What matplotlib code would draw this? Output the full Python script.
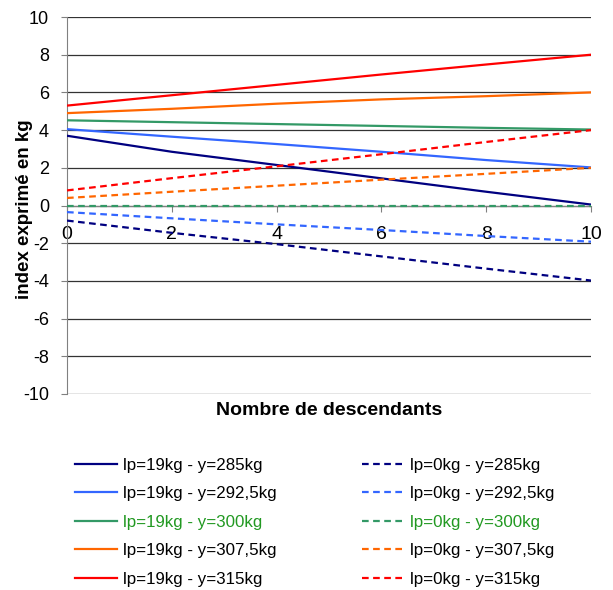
import matplotlib
matplotlib.use("Agg")
import matplotlib.pyplot as plt

# x values: nombre de descendants
descendants = [0, 2, 4, 6, 8, 10]

# Ip = 19 kg (solid lines)
lp19_285 = [3.7, 2.85, 2.15, 1.44, 0.73, 0.05]
lp19_292 = [4.05, 3.65, 3.26, 2.85, 2.41, 2.02]
lp19_300 = [4.52, 4.42, 4.32, 4.22, 4.12, 4.03]
lp19_307 = [4.9, 5.13, 5.4, 5.63, 5.8, 6.0]
lp19_315 = [5.3, 5.85, 6.4, 6.95, 7.48, 8.0]

# Ip = 0 kg (dashed lines)
lp0_285 = [-0.8, -1.45, -2.05, -2.7, -3.35, -3.98]
lp0_292 = [-0.35, -0.68, -1.0, -1.3, -1.62, -1.92]
lp0_300 = [0.0, 0.0, 0.0, 0.0, 0.0, 0.0]
lp0_307 = [0.4, 0.73, 1.05, 1.37, 1.68, 2.0]
lp0_315 = [0.8, 1.45, 2.08, 2.72, 3.37, 4.0]

labels_19 = ["lp=19kg - y=285kg", "lp=19kg - y=292,5kg", "lp=19kg - y=300kg",
             "lp=19kg - y=307,5kg", "lp=19kg - y=315kg"]
labels_0 = ["lp=0kg - y=285kg", "lp=0kg - y=292,5kg", "lp=0kg - y=300kg",
            "lp=0kg - y=307,5kg", "lp=0kg - y=315kg"]
colors = ["#000080", "#3366FF", "#339966", "#FF6600", "#FF0000"]

plt.rcParams["font.family"] = ["Liberation Sans", "DejaVu Sans"]
plt.rcParams["axes.unicode_minus"] = False

fig = plt.figure(figsize=(6.13, 5.90), dpi=100)
ax = fig.add_axes([67 / 613, 1 - 394 / 590, 524 / 613, 377 / 590])

handles = []
for ys, lab, c in zip([lp19_285, lp19_292, lp19_300, lp19_307, lp19_315], labels_19, colors):
    h, = ax.plot(descendants, ys, color=c, lw=1.6, label=lab, zorder=3)
    handles.append(h)
for ys, lab, c in zip([lp0_285, lp0_292, lp0_300, lp0_307, lp0_315], labels_0, colors):
    h, = ax.plot(descendants, ys, color=c, lw=1.6, ls=(0, (3, 2)), label=lab, zorder=3)
    handles.append(h)

ax.set_xlim(0, 10)
ax.set_ylim(-10, 10)
ax.set_yticks(range(-10, 11, 2))
ax.set_xticks(range(0, 11, 2))
ax.grid(axis="y", color="#333333", lw=0.9)
ax.set_axisbelow(True)

ax.spines["top"].set_visible(False)
ax.spines["right"].set_visible(False)
ax.spines["left"].set_color("#808080")
ax.spines["bottom"].set_color("#808080")
ax.spines["bottom"].set_position(("data", 0))

ax.tick_params(axis="y", direction="out", length=4, color="#808080", labelsize=13, pad=9)
ax.tick_params(axis="x", direction="out", length=4, color="#808080", labelsize=14, pad=10.5)

ax.set_ylabel("index exprimé en kg", fontsize=13.5, fontweight="bold")
ax.yaxis.set_label_coords(-0.065, 0.49)
ax.set_xlabel("Nombre de descendants", fontsize=14, fontweight="bold")
ax.xaxis.set_label_coords(0.5, -0.02)

leg = fig.legend(handles=handles, ncol=2, loc="upper left",
                 bbox_to_anchor=(75 / 613, 1 - 458 / 590), frameon=False,
                 fontsize=12.2, handlelength=2.5, handletextpad=0.35,
                 columnspacing=5.0, labelspacing=0.79, borderpad=0,
                 borderaxespad=0)
for t in leg.get_texts():
    if "300kg" in t.get_text():
        t.set_color("#229922")

fig.savefig("out.png", dpi=100)
